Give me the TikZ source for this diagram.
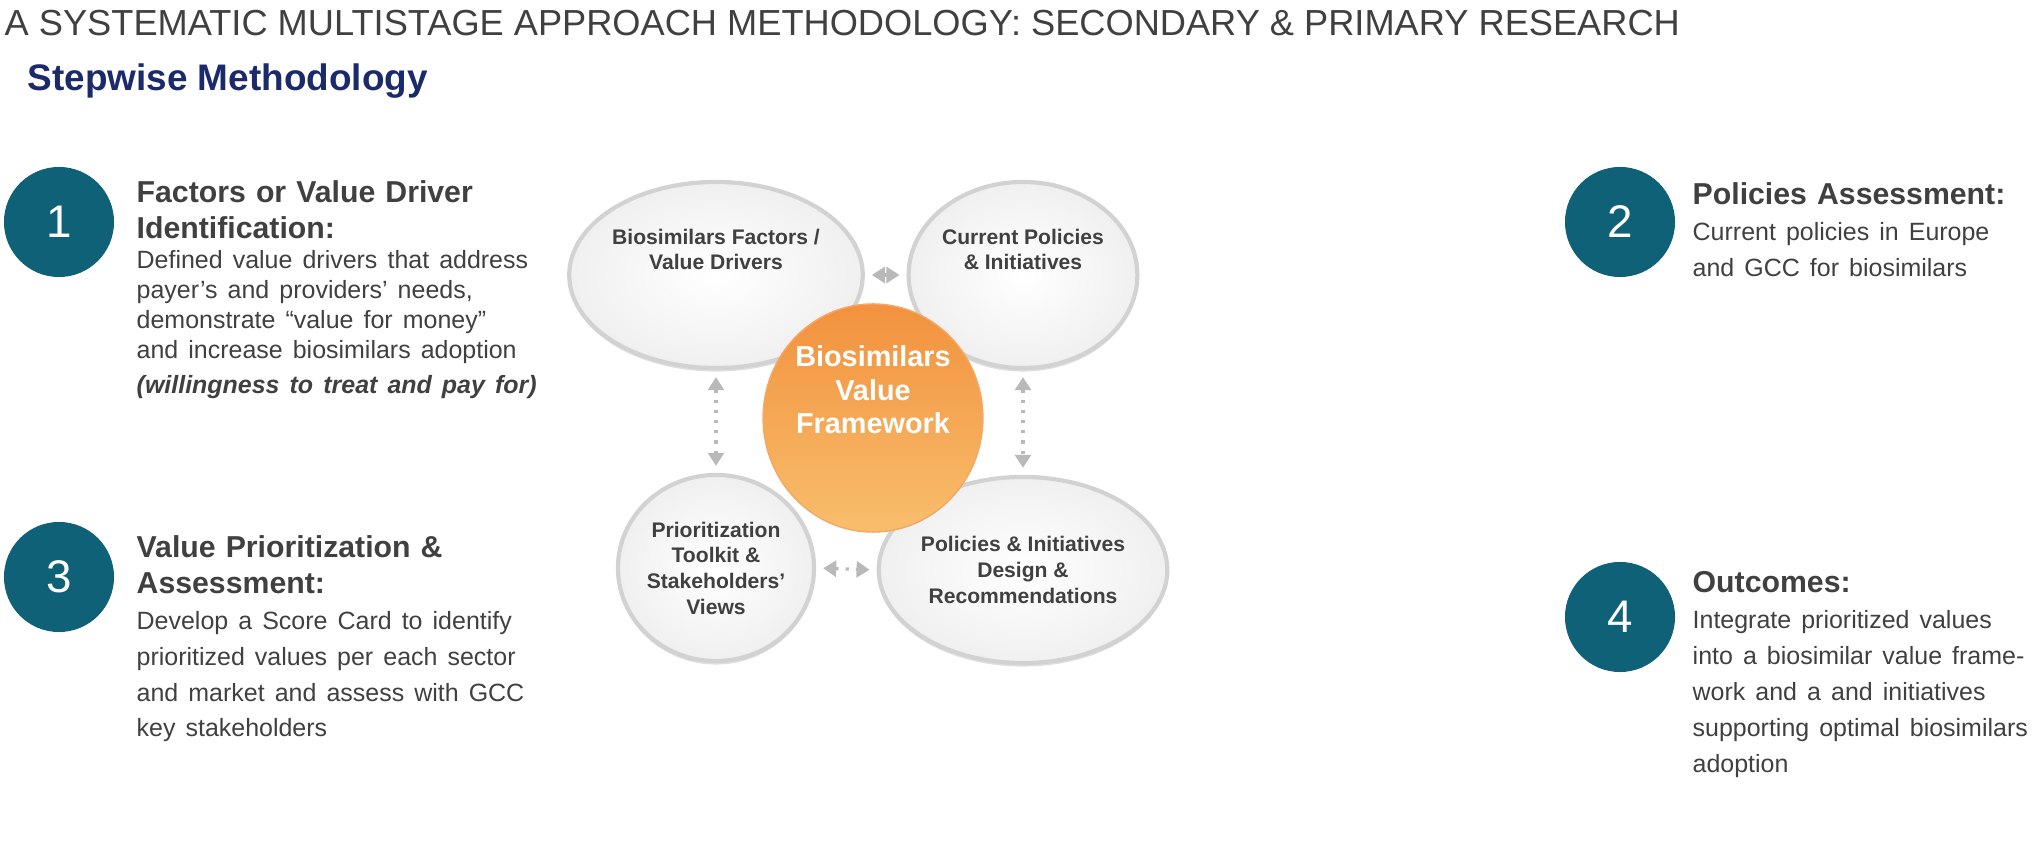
\documentclass[tikz,border=0pt]{standalone}
\usepackage{fontspec}
\setmainfont{Liberation Sans}
\usetikzlibrary{shapes.geometric,arrows.meta,shadows}
\definecolor{tealstep}{HTML}{0F6178}
\definecolor{navytitle}{HTML}{1B2A6B}
\definecolor{darktext}{HTML}{404040}
\definecolor{orangetop}{HTML}{F2913E}
\definecolor{orangebot}{HTML}{F8BE6C}
\tikzset{
	% ------- custom
	stepnum/.style={
		circle, fill=tealstep, minimum size=1.1cm, inner sep=0pt,
		text=white, font=\fontsize{13}{13}\selectfont,
	},
	stephead/.style={
		anchor=north west, align=left, text width=4cm, inner sep=0pt,
		text=darktext, font=\fontsize{8.6}{10.2}\selectfont\bfseries,
	},
	bubble/.style={
		ellipse, minimum width=1.96cm, minimum height=1.86cm, inner sep=0pt,
		draw=gray!35, line width=1.2pt,
		inner color=white, outer color=gray!12,
		drop shadow={opacity=0.25, shadow xshift=0pt, shadow yshift=-1pt},
		align=center, text=darktext, font=\fontsize{6}{7.3}\selectfont\bfseries,
	},
	hub/.style={
		ellipse, minimum width=1.76cm, minimum height=2.28cm, inner sep=0pt,
		top color=orangetop, bottom color=orangebot, draw=orangetop!80!white,
		align=center, text=white, font=\fontsize{8.2}{9.6}\selectfont\bfseries,
	},
	link/.style={
		{Triangle[length=1.3mm,width=1.6mm]}-{Triangle[length=1.3mm,width=1.6mm]},
		gray!55, line width=0.9pt, dotted, shorten <=2pt, shorten >=2pt,
	},
}
\newcommand{\stepbody}[1]{{\mdseries\fontsize{7.1}{8.5}\selectfont #1}}

\begin{document}
\begin{tikzpicture}[x=0.01cm, y=-0.01cm]

% canvas %{{{1

	\useasboundingbox (0,0) rectangle (2044,843);

% titles %{{{1

	\node[anchor=west, inner sep=0pt, text=darktext, font=\fontsize{10.3}{12}\selectfont]
		(title) at (4,23) {A SYSTEMATIC MULTISTAGE APPROACH METHODOLOGY: SECONDARY \& PRIMARY RESEARCH};
	\node[anchor=west, inner sep=0pt, text=navytitle, font=\fontsize{10.5}{12}\selectfont\bfseries]
		(subtitle) at (27,81) {Stepwise Methodology};

% steps %{{{1

	\node[stepnum] (n1) at (59,222) {1};
	\node[stepnum] (n2) at (1620,222) {2};
	\node[stepnum] (n3) at (59,577) {3};
	\node[stepnum] (n4) at (1620,617) {4};

	\node[stephead] (s1) at (136,180) {Factors or Value Driver Identification:\\
		\stepbody{Defined value drivers that address payer’s and providers’ needs,\ \ demonstrate “value for money” and increase biosimilars adoption\\
		\textbf{\itshape (willingness to treat and pay for)}}};
	\node[stephead] (s3) at (136,535) {Value Prioritization \&\\Assessment:\\
		\stepbody{Develop a Score Card to identify prioritized values per each sector and market and assess with GCC key stakeholders}};
	\node[stephead, text width=3.4cm] (s2) at (1692,182) {Policies Assessment:\\
		\stepbody{Current policies in Europe and GCC for biosimilars}};
	\node[stephead, text width=3.4cm] (s4) at (1692,571) {Outcomes:\\
		\stepbody{Integrate prioritized values into a biosimilar value framework and a and initiatives supporting optimal biosimilars adoption}};

% framework %{{{1

	\node[bubble] (drivers)  at (716,275) {Biosimilars Factors /\\Value Drivers\\[1.2em]};
	\node[bubble] (policies) at (1023,275) {Current Policies\\\& Initiatives\\[1.2em]};
	\node[bubble] (toolkit)  at (716,568) {Prioritization\\Toolkit \&\\Stakeholders’\\Views};
	\node[bubble] (design)   at (1023,570) {Policies \& Initiatives\\Design \&\\Recommendations};

	\node[hub] (hub) at (873,418) {Biosimilars\\Value\\Framework\\[0.8em]};

% links %{{{1

	\draw[link] (drivers.east)  -- (policies.west);
	\draw[link] (toolkit.east)  -- (design.west);
	\draw[link] (drivers.south) -- (toolkit.north);
	\draw[link] (policies.south) -- (design.north);

\end{tikzpicture}
\end{document}
